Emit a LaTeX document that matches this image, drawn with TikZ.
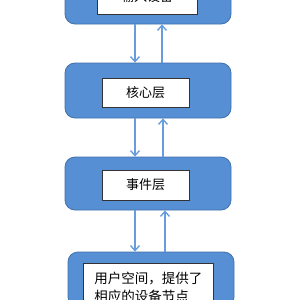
\documentclass[tikz,border=0pt]{standalone}
\usepackage{fontspec}
\newfontfamily\cjk{Noto Sans CJK SC}
\usetikzlibrary{arrows.meta}
\definecolor{boxblue}{RGB}{86,143,212}
\definecolor{boxedge}{RGB}{66,114,170}
\definecolor{arrblue}{RGB}{104,156,220}
\tikzset{
  layer/.style={draw=boxedge, line width=0.8pt, fill=boxblue, rounded corners=10pt,
    minimum width=166pt, minimum height=55pt, inner sep=0pt},
  label box/.style={draw=black!80, line width=0.6pt, fill=white, inner sep=0pt,
    minimum width=87pt, minimum height=29pt, font=\cjk\fontsize{13}{15}\selectfont},
  arr/.style={draw=arrblue, line width=1.4pt, -{Straight Barb[length=5pt,width=9pt]}}
}
\begin{document}
\begin{tikzpicture}[x=1pt,y=-1pt]
\useasboundingbox (0,0) rectangle (300,300);
\clip (0,0) rectangle (300,300);
\fill[white] (0,0) rectangle (300,300);
% layers
\node[layer] (b1) at (148,-3.5) {};
\node[layer] (b2) at (148,90.5) {};
\node[layer, minimum height=53pt] (b3) at (148,183.5) {};
\node[layer] (b4) at (151,279.5) {};
% labels
\node[label box, minimum width=100pt, minimum height=35pt] (t1) at (147,-3.5) {输入设备};
\node[label box] (t2) at (145.5,92.5) {核心层};
\node[label box, minimum height=30pt] (t3) at (145.5,185) {事件层};
\node[label box, anchor=north west, minimum width=130pt, inner xsep=10pt, inner ysep=9pt,
      align=left, font=\cjk\fontsize{13.5}{18}\selectfont] (t4) at (83,263)
      {用户空间，提供了\\相应的设备节点};
% arrows
\draw[arr] ([xshift=-13pt]b1.south) -- ([xshift=-13pt]b2.north);
\draw[arr] ([xshift=14pt]b2.north) -- ([xshift=14pt]b1.south);
\draw[arr] ([xshift=-13pt]b2.south) -- ([xshift=-13pt]b3.north);
\draw[arr] ([xshift=15pt]b3.north) -- ([xshift=15pt]b2.south);
\draw[arr] ([xshift=-13pt]b3.south) -- ([xshift=-16pt]b4.north);
\draw[arr] ([xshift=14pt]b4.north) -- ([xshift=17pt]b3.south);
\end{tikzpicture}
\end{document}
